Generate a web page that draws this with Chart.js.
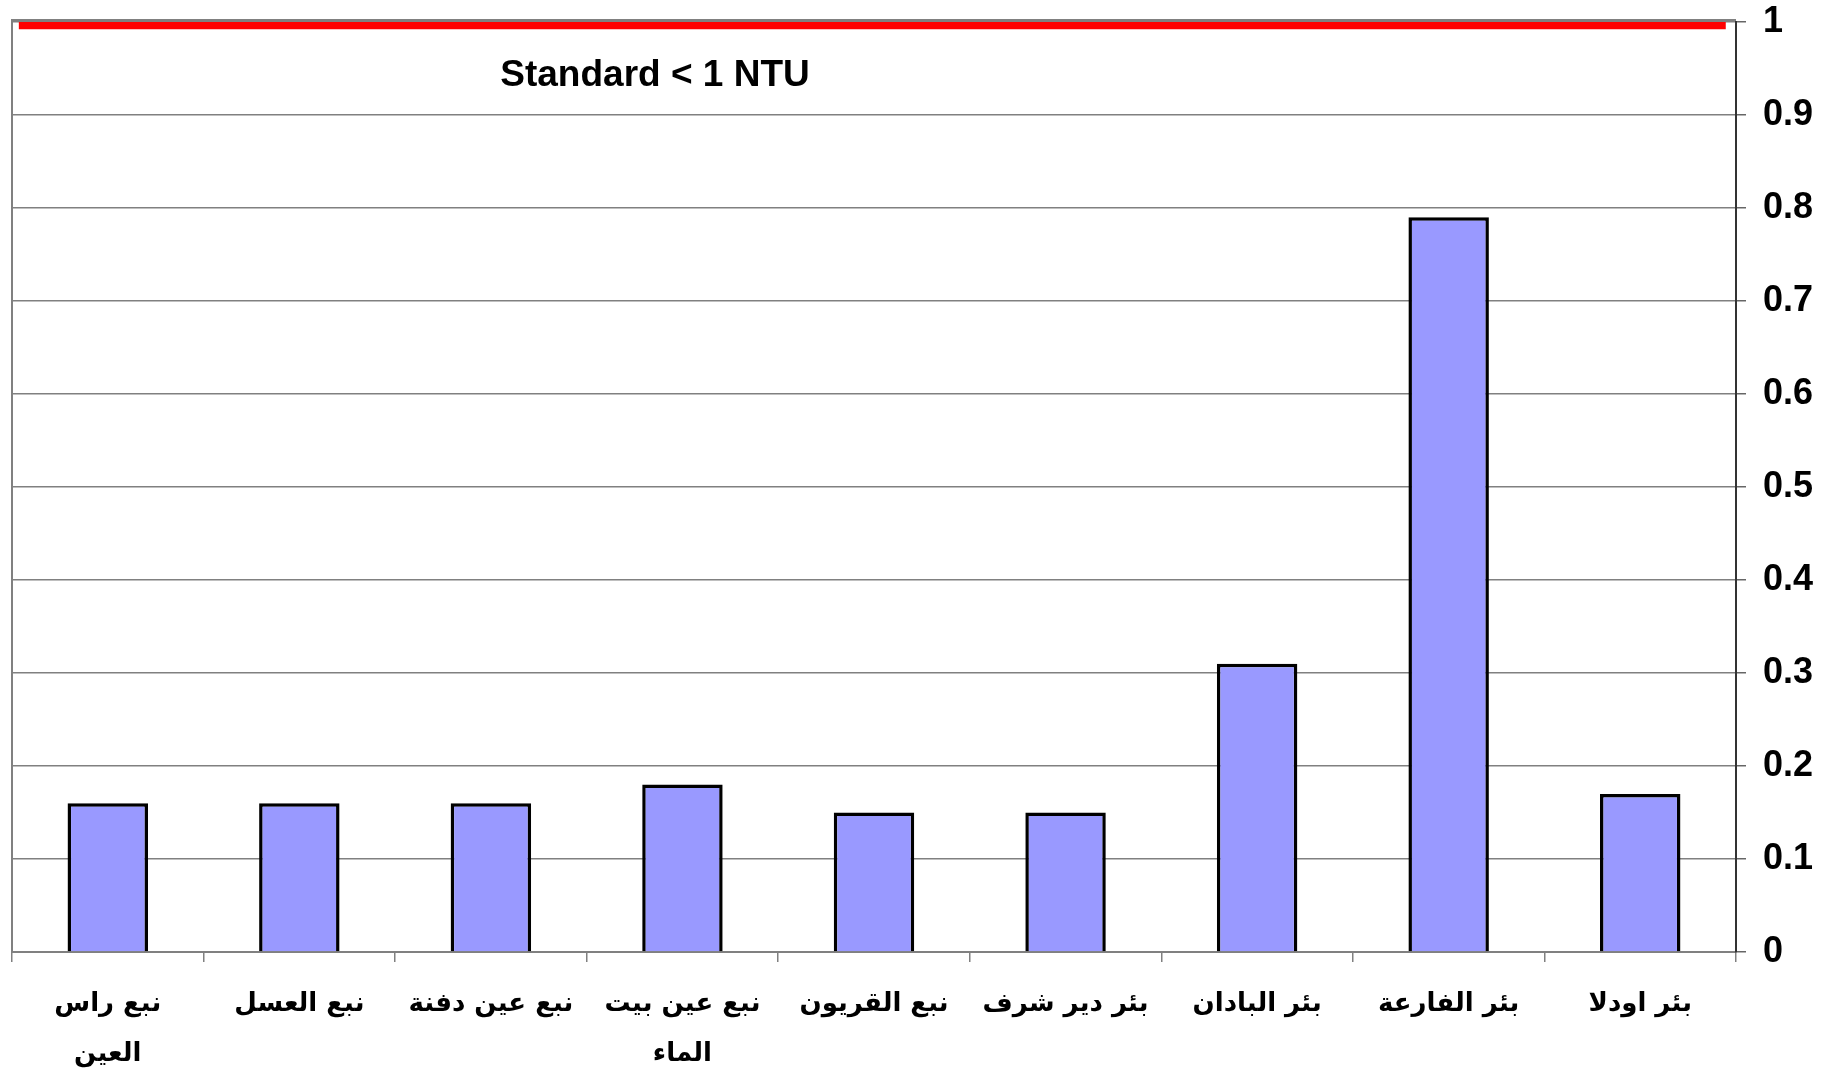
<!DOCTYPE html>
<html>
<head>
<meta charset="utf-8">
<script src="https://cdn.jsdelivr.net/npm/chart.js@4.4.1/dist/chart.umd.min.js"></script>
<style>
  html, body { margin: 0; padding: 0; background: #fff; }
  #wrap { width: 1833px; height: 1073px; }
</style>
</head>
<body>
<div id="wrap"><canvas id="chart"></canvas></div>
<script>
// turbidity per water source (NTU)
const sites = [
  ['نبع راس', 'العين'],
  'نبع العسل',
  'نبع عين دفنة',
  ['نبع عين بيت', 'الماء'],
  'نبع القريون',
  'بئر دير شرف',
  'بئر البادان',
  'بئر الفارعة',
  'بئر اودلا'
];
const turbidity = [0.16, 0.16, 0.16, 0.18, 0.15, 0.15, 0.31, 0.79, 0.17];

// standard limit line
const standardX = [0, 1];
const standardY = [0.997, 0.997];
const standardLabel = 'Standard < 1 NTU';

const yTickLabels = ['0', '0.1', '0.2', '0.3', '0.4', '0.5', '0.6', '0.7', '0.8', '0.9', '1'];

// grey frame around plot area + the standard note
const framePlugin = {
  id: 'frame',
  beforeDatasetsDraw(chart) {
    const a = chart.chartArea, ctx = chart.ctx;
    ctx.save();
    ctx.strokeStyle = '#808080';
    ctx.lineWidth = 2;
    ctx.beginPath();
    ctx.moveTo(a.left, a.bottom);
    ctx.lineTo(a.left, a.top - 2);
    ctx.lineTo(a.right, a.top - 2);
    ctx.stroke();
    ctx.restore();
  },
  afterDraw(chart) {
    const a = chart.chartArea, ctx = chart.ctx;
    ctx.save();
    ctx.font = 'bold 37px "Liberation Sans", Arial, sans-serif';
    ctx.fillStyle = '#000';
    ctx.textAlign = 'center';
    ctx.textBaseline = 'middle';
    ctx.fillText(standardLabel, a.left + 643, a.top + 54);
    ctx.restore();
  }
};

new Chart(document.getElementById('chart'), {
  data: {
    labels: sites,
    datasets: [
      {
        type: 'line',
        data: standardX.map((x, i) => ({ x: x, y: standardY[i] })),
        xAxisID: 'xl',
        borderColor: '#FF0000',
        borderWidth: 9,
        pointRadius: 0,
        fill: false,
        order: 0
      },
      {
        type: 'bar',
        data: turbidity,
        backgroundColor: '#9999FF',
        borderColor: '#000000',
        borderWidth: 3.5,
        grouped: false,
        barPercentage: 0.42,
        categoryPercentage: 1,
        order: 1
      }
    ]
  },
  options: {
    responsive: true,
    maintainAspectRatio: false,
    animation: false,
    layout: { padding: { left: 12, top: 22, right: 0, bottom: 0 } },
    plugins: {
      legend: { display: false },
      tooltip: { enabled: false }
    },
    scales: {
      x: {
        type: 'category',
        offset: true,
        grid: {
          offset: true,
          drawOnChartArea: false,
          drawTicks: true,
          tickLength: 10,
          color: '#808080',
          lineWidth: 1.5
        },
        border: { display: true, color: '#808080', width: 2 },
        ticks: {
          color: '#000',
          padding: 18,
          maxRotation: 0,
          autoSkip: false,
          font: { family: '"DejaVu Sans", sans-serif', size: 26, weight: 'bold', lineHeight: 1.9 }
        },
        afterFit(scale) {
          scale.height = 121;
          scale.paddingLeft = 0;
          scale.paddingRight = 0;
        }
      },
      xl: {
        type: 'linear',
        display: false,
        min: -0.004,
        max: 1.006
      },
      y: {
        position: 'right',
        min: 0,
        max: 1,
        ticks: {
          stepSize: 0.1,
          color: '#000',
          padding: 17,
          font: { family: '"Liberation Sans", Arial, sans-serif', size: 36, weight: 'bold' },
          callback: (v, i) => yTickLabels[i]
        },
        grid: {
          color: '#808080',
          lineWidth: 1.5,
          tickLength: 10,
          tickColor: '#666'
        },
        border: { display: true, color: '#333', width: 2 },
        afterFit(scale) {
          scale.width = 97;
          scale.paddingTop = 0;
          scale.paddingBottom = 0;
        }
      }
    }
  },
  plugins: [framePlugin]
});
</script>
</body>
</html>
